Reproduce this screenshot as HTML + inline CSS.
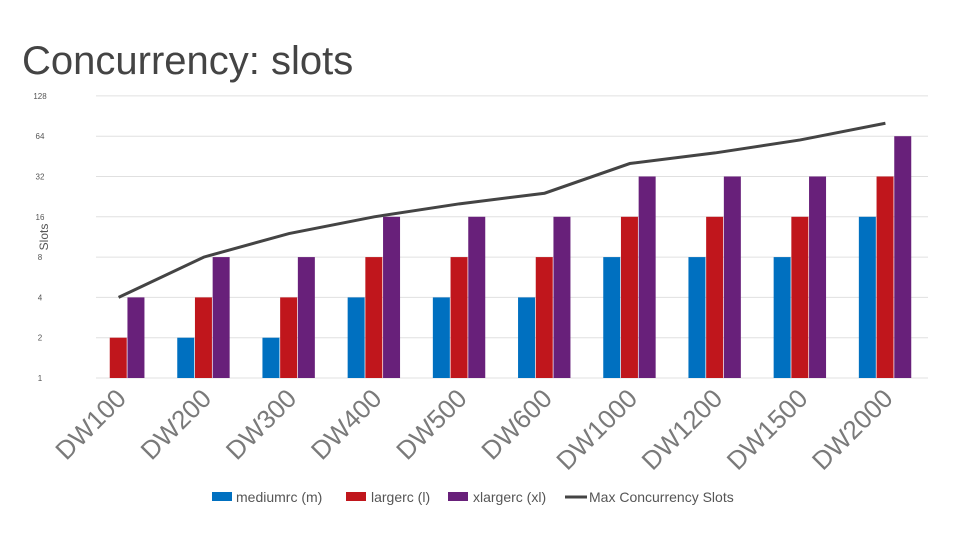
<!DOCTYPE html>
<html><head><meta charset="utf-8"><style>
body{margin:0;background:#fff;width:960px;height:540px;overflow:hidden;font-family:"Liberation Sans",sans-serif}
</style></head><body>
<svg width="960" height="540">
<text x="22" y="74" font-size="40" fill="#444">Concurrency: slots</text>
<g id="grid"></g><g id="bars"></g><g id="line"></g><g id="xl"></g>
<text transform="translate(48,237) rotate(-90)" text-anchor="middle" font-size="12" fill="#555">Slots</text>
<g font-size="14" fill="#555">
<rect x="212" y="492" width="20" height="9" fill="#0070c0"/><text x="236" y="502">mediumrc (m)</text>
<rect x="346" y="492" width="20" height="9" fill="#c0161c"/><text x="371" y="502">largerc (l)</text>
<rect x="448" y="492" width="20" height="9" fill="#68207a"/><text x="473" y="502">xlargerc (xl)</text>
<line x1="565" y1="497" x2="587" y2="497" stroke="#444" stroke-width="3"/><text x="589" y="502">Max Concurrency Slots</text>
</g>
</svg>
<script>
const categories=["DW100","DW200","DW300","DW400","DW500","DW600","DW1000","DW1200","DW1500","DW2000"];
const medium=[1,2,2,4,4,4,8,8,8,16];
const large=[2,4,4,8,8,8,16,16,16,32];
const xlarge=[4,8,8,16,16,16,32,32,32,64];
const maxSlots=[4,8,12,16,20,24,40,48,60,80];
const ticks=[1,2,4,8,16,32,64,128];
const NS="http://www.w3.org/2000/svg";
const y0=378,step=40.3,x0=76,gw=85.2;
const Y=v=>y0-Math.log2(v)*step;
const X=i=>x0+gw*(i+0.5);
function mk(t,a,p){const e=document.createElementNS(NS,t);for(const k in a)e.setAttribute(k,a[k]);p.appendChild(e);return e;}
const grid=document.getElementById('grid');
ticks.forEach(t=>{
 const l=mk('line',{x1:96,x2:928,y1:Y(t),y2:Y(t),stroke:'#e0e0e0'},grid);
 
 
 const tx=mk('text',{x:40,y:Y(t)+3,'font-size':8,fill:'#555','text-anchor':'middle'},grid);
 tx.textContent=t;
 
 
});
const bars=document.getElementById('bars');
const series=[[medium,'#0070c0','medium'],[large,'#c0161c','large'],[xlarge,'#68207a','xlarge']];
categories.forEach((c,i)=>{
 series.forEach((s,j)=>{
  const v=s[0][i],x=X(i)+(j-1.5)*17.7;
  const r=mk('rect',{x:x,y:Y(v),width:17,height:y0-Y(v),fill:s[1]},bars);
  
  
 });
 const t=mk('text',{transform:`translate(${X(i)+9},${400}) rotate(-45)`,'text-anchor':'end','font-size':26,fill:'#7a7a7a'},document.getElementById('xl'));
 t.textContent=c;
 
 
});
const pts=maxSlots.map((v,i)=>X(i)+','+Y(v)).join(' ');
const pl=mk('polyline',{points:pts,fill:'none',stroke:'#444','stroke-width':3},document.getElementById('line'));


</script>
</body></html>
